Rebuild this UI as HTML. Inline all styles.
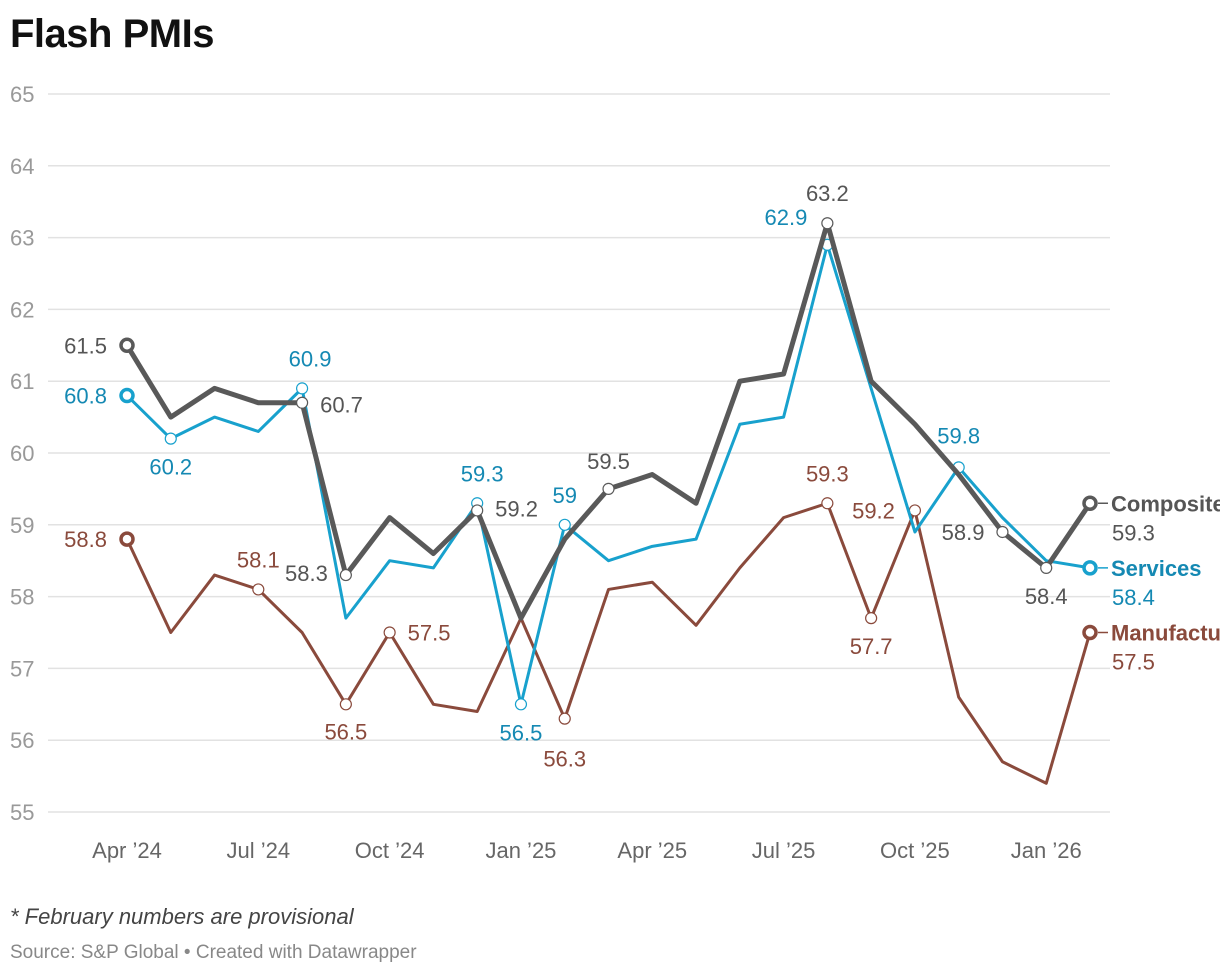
<!DOCTYPE html>
<html><head><meta charset="utf-8"><style>
body{margin:0;background:#fff;width:1220px;height:978px;overflow:hidden;font-family:"Liberation Sans",sans-serif}
#title{position:absolute;left:10px;top:12px;font-size:40px;font-weight:bold;color:#111;letter-spacing:-0.5px}
#note{position:absolute;left:10px;top:904px;font-size:22px;font-style:italic;color:#444}
#src{position:absolute;left:10px;top:942px;font-size:19px;color:#888}
svg{position:absolute;left:0;top:0}
</style></head><body>
<div id="title">Flash PMIs</div>
<svg id="c" width="1220" height="900"></svg>
<div id="note">* February numbers are provisional</div>
<div id="src">Source: S&amp;P Global • Created with Datawrapper</div>
<script>
const yTicks=[55,56,57,58,59,60,61,62,63,64,65];
const xTickLabels=["Apr ’24","Jul ’24","Oct ’24","Jan ’25","Apr ’25","Jul ’25","Oct ’25","Jan ’26"];
const xTickIdx=[0,3,6,9,12,15,18,21];
const composite=[61.5,60.5,60.9,60.7,60.7,58.3,59.1,58.6,59.2,57.7,58.8,59.5,59.7,59.3,61.0,61.1,63.2,61.0,60.4,59.7,58.9,58.4,59.3];
const services=[60.8,60.2,60.5,60.3,60.9,57.7,58.5,58.4,59.3,56.5,59.0,58.5,58.7,58.8,60.4,60.5,62.9,60.9,58.9,59.8,59.1,58.5,58.4];
const manufacturing=[58.8,57.5,58.3,58.1,57.5,56.5,57.5,56.5,56.4,57.7,56.3,58.1,58.2,57.6,58.4,59.1,59.3,57.7,59.2,56.6,55.7,55.4,57.5];
const NS="http://www.w3.org/2000/svg",svg=document.getElementById('c');
const X=i=>127+i*(1090-127)/22, Y=v=>812-(v-55)*(812-94)/10;
function mk(t,a,p){const e=document.createElementNS(NS,t);for(const k in a)e.setAttribute(k,a[k]);(p||svg).appendChild(e);return e;}
yTicks.forEach(v=>{
 const l=mk('line',{x1:48,x2:1110,y1:Y(v),y2:Y(v),stroke:'#e2e2e2','stroke-width':1.5});
 
 
 const t=mk('text',{x:10,y:Y(v)+8,'font-size':22,fill:'#999'});t.textContent=v;
 
 
});
xTickIdx.forEach((ix,k)=>{
 const t=mk('text',{x:X(ix),y:858,'font-size':22,fill:'#666','text-anchor':'middle'});t.textContent=xTickLabels[k];
 
 
});
const series=[
 {d:manufacturing,c:'#8a4a3c',tc:'#8a4a3c',w:3,name:'manufacturing',lab:'Manufacturing',
  ann:[[0,-20,8,'end'],[3,0,-22,'middle'],[5,0,35,'middle'],[6,18,8,'start'],[10,0,48,'middle'],[16,0,-22,'middle'],[17,0,36,'middle'],[18,-20,8,'end']]},
 {d:services,c:'#18a1cd',tc:'#1589b3',w:3,name:'services',lab:'Services',
  ann:[[0,-20,8,'end'],[1,0,36,'middle'],[4,8,-22,'middle'],[8,5,-22,'middle'],[9,0,36,'middle'],[10,0,-22,'middle'],[16,-20,-20,'end'],[19,0,-24,'middle']]},
 {d:composite,c:'#595959',tc:'#555',w:5,name:'composite',lab:'Composite',
  ann:[[0,-20,8,'end'],[4,18,10,'start'],[5,-18,6,'end'],[8,18,6,'start'],[11,0,-20,'middle'],[16,0,-22,'middle'],[20,-18,8,'end'],[21,0,36,'middle']]}
];
series.forEach(s=>{
 const g=mk('g',{});
 
 
 const p=mk('path',{d:s.d.map((v,i)=>(i?'L':'M')+X(i)+','+Y(v)).join(''),fill:'none',stroke:s.c,'stroke-width':s.w,'stroke-linejoin':'round'},g);
 
 
 s.ann.forEach(a=>{
  const i=a[0];
  const m=mk('circle',{cx:X(i),cy:Y(s.d[i]),r:i==0?6:5.5,fill:'#fff',stroke:s.c,'stroke-width':i==0?3.5:1.2},g);
  
  
  const t=mk('text',{x:X(i)+a[1],y:Y(s.d[i])+a[2],'font-size':22,fill:s.tc,'text-anchor':a[3]},g);
  t.textContent=s.d[i];
  
  
 });
 const L=s.d.length-1;
 const e=mk('circle',{cx:X(L),cy:Y(s.d[L]),r:6,fill:'#fff',stroke:s.c,'stroke-width':3.5},g);
 
 
 mk('line',{x1:X(L)+8,x2:X(L)+18,y1:Y(s.d[L]),y2:Y(s.d[L]),stroke:s.c,'stroke-width':1.5},g);
 const n=mk('text',{x:1111,y:Y(s.d[L])+8,'font-size':22,'font-weight':'bold',fill:s.tc},g);n.textContent=s.lab;
 
 
 const v=mk('text',{x:1112,y:Y(s.d[L])+37,'font-size':22,fill:s.tc},g);v.textContent=s.d[L];
 
 
});
</script>
</body></html>
